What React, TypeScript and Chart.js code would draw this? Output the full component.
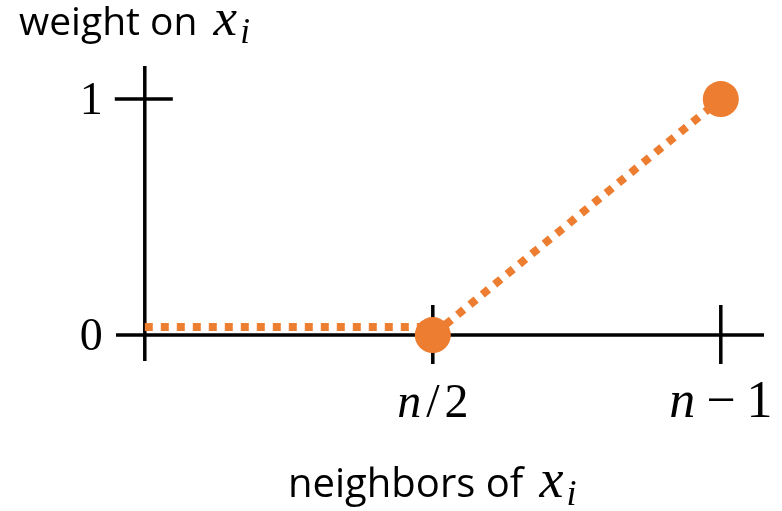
import React, { useEffect, useRef } from "react";
import { Chart, registerables } from "chart.js";

Chart.register(...registerables);

// ---- data ----
const flatX = [0, 1];
const flatY = [0.034, 0.034];
const rampX = [1, 2]; // 1 = n/2, 2 = n-1
const rampY = [0, 1];
const xTickValues = [1, 2];
const xTickParts = [
  ["n", "/", "2"],
  ["n", "−", "1"],
];
const yTickValues = [0, 1];
const yTickLabels = ["0", "1"];
const yTitle = "weight on ";
const xTitle = "neighbors of ";
const mathVar = "x";
const mathSub = "i";

const ORANGE = "#ED7D31";
const SERIF = '"Liberation Serif", "DejaVu Serif", serif';
const SANS = '"Open Sans", "Noto Sans", sans-serif';

function drawMathLabel(ctx: CanvasRenderingContext2D, text: string, x: number, baseline: number, sansSize: number) {
  ctx.font = `${sansSize}px ${SANS}`;
  ctx.textAlign = "left";
  ctx.textBaseline = "alphabetic";
  ctx.fillText(text, x, baseline);
  let cx = x + ctx.measureText(text).width + 6;
  ctx.font = `italic ${sansSize + 14}px ${SERIF}`;
  ctx.fillText(mathVar, cx, baseline);
  cx += ctx.measureText(mathVar).width + 3;
  ctx.font = `italic ${Math.round(sansSize * 0.9)}px ${SERIF}`;
  ctx.fillText(mathSub, cx, baseline + 8);
}

const axesPlugin = {
  id: "axesPlugin",
  beforeDatasetsDraw(chart: any) {
    const { ctx, chartArea, scales } = chart;
    const xs = scales.x;
    const ys = scales.y;
    const x0 = xs.getPixelForValue(0);
    const y0 = ys.getPixelForValue(0);
    ctx.save();
    ctx.strokeStyle = "#000";
    ctx.lineWidth = 3.5;
    ctx.lineCap = "butt";
    ctx.beginPath();
    ctx.moveTo(x0, chartArea.top);
    ctx.lineTo(x0, chartArea.bottom);
    ctx.moveTo(chartArea.left, y0);
    ctx.lineTo(chartArea.right, y0);
    yTickValues.forEach((v) => {
      if (v !== 0) {
        const py = ys.getPixelForValue(v);
        ctx.moveTo(x0 - 30, py);
        ctx.lineTo(x0 + 28, py);
      }
    });
    xTickValues.forEach((v) => {
      const px = xs.getPixelForValue(v);
      ctx.moveTo(px, y0 - 30);
      ctx.lineTo(px, y0 + 29);
    });
    ctx.stroke();

    ctx.fillStyle = "#000";
    // y tick labels
    ctx.font = `46px ${SERIF}`;
    ctx.textAlign = "right";
    ctx.textBaseline = "alphabetic";
    yTickValues.forEach((v, i) => {
      const py = ys.getPixelForValue(v);
      ctx.fillText(yTickLabels[i], x0 - 42, py + 15);
    });

    // x tick labels
    xTickValues.forEach((v, i) => {
      const px = xs.getPixelForValue(v);
      const size = i === 0 ? 48 : 52;
      const gap = i === 0 ? 5 : 11;
      const parts = xTickParts[i];
      const fonts = parts.map((p, k) => (k === 0 ? `italic ${size}px ${SERIF}` : `${size}px ${SERIF}`));
      const widths = parts.map((p, k) => {
        ctx.font = fonts[k];
        return ctx.measureText(p).width;
      });
      const total = widths.reduce((a, b) => a + b, 0) + gap * (parts.length - 1);
      let sx = px - total / 2;
      const baseline = 417;
      ctx.textAlign = "left";
      parts.forEach((p, k) => {
        ctx.font = fonts[k];
        ctx.fillText(p, sx, baseline);
        sx += widths[k] + gap;
      });
    });

    // axis titles
    drawMathLabel(ctx, yTitle, 19, 35, 39);
    drawMathLabel(ctx, xTitle, 288, 497, 40);
    ctx.restore();
  },
};

export default function App() {
  const canvasRef = useRef<HTMLCanvasElement | null>(null);
  useEffect(() => {
    const canvas = canvasRef.current;
    if (!canvas) return;
    const chart = new Chart(canvas, {
      type: "line",
      data: {
        datasets: [
          {
            data: flatX.map((x, i) => ({ x, y: flatY[i] })),
            borderColor: ORANGE,
            backgroundColor: ORANGE,
            borderWidth: 8,
            borderDash: [8, 8],
            borderCapStyle: "butt",
            pointRadius: 0,
            fill: false,
            tension: 0,
            clip: false,
          },
          {
            data: rampX.map((x, i) => ({ x, y: rampY[i] })),
            borderColor: ORANGE,
            backgroundColor: ORANGE,
            borderWidth: 8,
            borderDash: [8, 8],
            borderCapStyle: "butt",
            pointRadius: 18,
            pointBorderWidth: 0,
            pointBackgroundColor: ORANGE,
            pointBorderColor: ORANGE,
            fill: false,
            tension: 0,
            clip: false,
          },
        ],
      },
      options: {
        animation: false,
        responsive: false,
        devicePixelRatio: 1,
        layout: { padding: { left: 116, right: 17, top: 66, bottom: 150 } },
        plugins: { legend: { display: false }, tooltip: { enabled: false } },
        scales: {
          x: { type: "linear", min: -0.1, max: 2.15, display: false },
          y: { type: "linear", min: -0.11, max: 1.14, display: false },
        },
      },
      plugins: [axesPlugin],
    } as any);
    return () => chart.destroy();
  }, []);
  return (
    <div style={{ position: "fixed", left: 0, top: 0, width: 782, height: 511, background: "#fff" }}>
      <canvas ref={canvasRef} width={782} height={511} style={{ width: 782, height: 511 }} />
    </div>
  );
}
